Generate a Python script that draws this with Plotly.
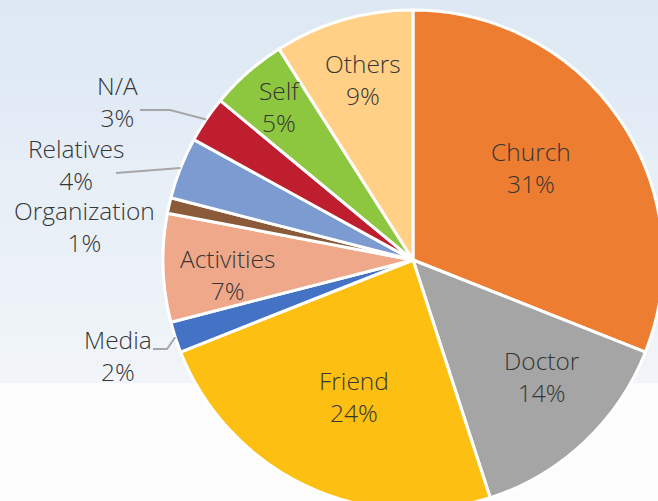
import math
import plotly.graph_objects as go

# data
labels = ["Church", "Doctor", "Friend", "Media", "Activities",
          "Organization", "Relatives", "N/A", "Self", "Others"]
values = [31, 14, 24, 2, 7, 1, 4, 3, 5, 9]
colors = ["#ED7D31", "#A5A5A5", "#FCBF12", "#4472C4", "#F0A88A",
          "#8B5A38", "#7C9BD0", "#BE1E2D", "#8DC63F", "#FFD086"]

W, H = 676, 520
CX, CY, R = 413, 260, 250
TXT = "#363636"
FONT = "Open Sans"
FSIZE = 24.5


def px(x, y):
    return x / W, 1 - y / H


def edge_point(i):
    # point on the pie rim at the middle of slice i (clockwise from 12 o'clock)
    total = sum(values)
    start = sum(values[:i]) / total * 360
    mid = math.radians(start + values[i] / total * 180)
    return CX + R * math.sin(mid), CY - R * math.cos(mid)


fig = go.Figure()

fig.add_trace(go.Pie(
    labels=labels,
    values=values,
    sort=False,
    direction="clockwise",
    rotation=0,
    marker=dict(colors=colors, line=dict(color="white", width=3)),
    textinfo="none",
    hoverinfo="label+percent",
    showlegend=False,
    domain=dict(x=[(CX - R) / W, (CX + R) / W],
                y=[1 - (CY + R) / H, 1 - (CY - R) / H]),
))

# sky-like background bands
shapes = []
n = 24
top, mid = (221, 232, 244), (241, 245, 249)
for k in range(n):
    t = k / (n - 1)
    c = tuple(round(top[j] + (mid[j] - top[j]) * t) for j in range(3))
    y0, y1 = 383 * k / n, 383 * (k + 1) / n
    x0p, y0p = px(0, y0)
    x1p, y1p = px(W, y1 + 1)
    shapes.append(dict(type="rect", xref="paper", yref="paper", layer="below",
                       x0=x0p, x1=x1p, y0=y0p, y1=y1p, line_width=0,
                       fillcolor="rgb(%d,%d,%d)" % c))
x0p, y0p = px(0, 383)
x1p, y1p = px(W, H)
shapes.append(dict(type="rect", xref="paper", yref="paper", layer="below",
                   x0=x0p, x1=x1p, y0=y0p, y1=y1p, line_width=0,
                   fillcolor="#FCFCFD"))

# leader lines for the small outside labels
leaders = {"N/A": [(140, 110), (170, 110)],
           "Relatives": [(116, 173)],
           "Media": [(153, 349), (167, 349)]}
for name, pts in leaders.items():
    ex, ey = edge_point(labels.index(name))
    allp = [px(*p) for p in pts + [(ex, ey)]]
    path = "M " + " L ".join("%.5f,%.5f" % p for p in allp)
    shapes.append(dict(type="path", xref="paper", yref="paper", path=path,
                       line=dict(color="#A6A6A6", width=2)))

# centre of each two-line label, in pixels
label_pos = {"Church": (531, 168), "Doctor": (542, 376), "Friend": (354, 396),
             "Media": (118, 355), "Activities": (228, 274),
             "Organization": (84, 226), "Relatives": (76, 164),
             "N/A": (117, 102), "Self": (279, 107), "Others": (363, 79)}
annotations = []
for name, v in zip(labels, values):
    x, y = px(*label_pos[name])
    annotations.append(dict(x=x, y=y, xref="paper", yref="paper",
                            text="%s<br>%d%%" % (name, v), showarrow=False,
                            align="center",
                            font=dict(family=FONT, size=FSIZE, color=TXT, weight=300),
                            xanchor="center", yanchor="middle"))

fig.update_layout(
    width=W, height=H,
    margin=dict(l=0, r=0, t=0, b=0),
    paper_bgcolor="white",
    plot_bgcolor="white",
    shapes=shapes,
    annotations=annotations,
)

fig.write_html("out.html", config={"displayModeBar": False},
               post_script="document.body.style.margin='0';document.body.style.overflow='hidden';")
